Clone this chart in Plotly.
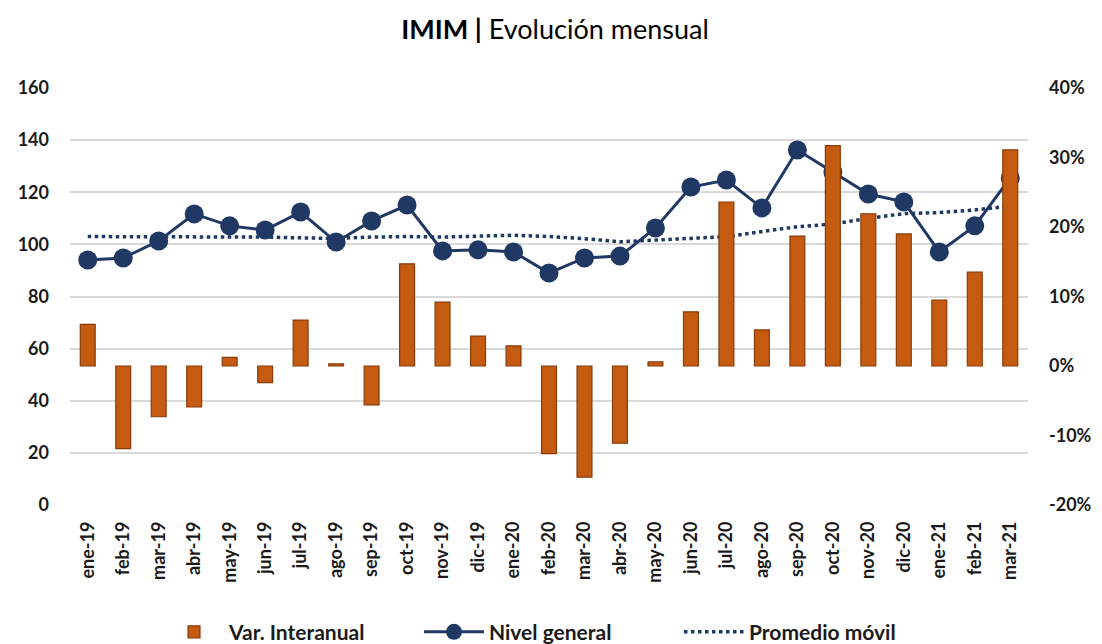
import plotly.graph_objects as go

meses = ["ene-19","feb-19","mar-19","abr-19","may-19","jun-19","jul-19","ago-19","sep-19","oct-19",
         "nov-19","dic-19","ene-20","feb-20","mar-20","abr-20","may-20","jun-20","jul-20","ago-20",
         "sep-20","oct-20","nov-20","dic-20","ene-21","feb-21","mar-21"]
var_interanual = [6.0, -11.9, -7.3, -5.9, 1.25, -2.4, 6.6, 0.3, -5.6, 14.7,
                  9.2, 4.3, 2.9, -12.6, -16.0, -11.1, 0.6, 7.8, 23.6, 5.2,
                  18.7, 31.7, 21.9, 19.0, 9.5, 13.5, 31.1]
nivel_general = [94.0, 94.8, 101.3, 111.7, 107.1, 105.5, 112.4, 100.9, 109.0, 115.1,
                 97.5, 97.9, 97.1, 89.0, 94.8, 95.5, 106.3, 122.0, 124.7, 114.0,
                 136.2, 127.8, 119.3, 116.3, 97.1, 107.1, 125.5]
promedio_movil = [103.0, 103.0, 103.0, 103.0, 103.0, 102.8, 102.5, 102.3, 102.8, 103.0,
                  102.8, 103.0, 103.5, 103.0, 102.2, 101.0, 101.5, 102.3, 103.0, 105.0,
                  106.8, 107.8, 110.0, 111.8, 112.2, 113.2, 114.7]
left_ticks = [0, 20, 40, 60, 80, 100, 120, 140, 160]
right_ticks = [-20, -10, 0, 10, 20, 30, 40]
right_labels = ["-20%", "-10%", "0%", "10%", "20%", "30%", "40%"]

navy = "#203864"
orange = "#C55A11"
font_fam = "Lato, 'Open Sans', sans-serif"
tick_font = dict(size=18, family=font_fam, weight="bold", color="#1a1a1a")

fig = go.Figure()
fig.add_trace(go.Bar(
    x=meses, y=var_interanual, name="Var. Interanual", yaxis="y2",
    marker=dict(color=orange, line=dict(color="#8A3B0B", width=1.2)),
    width=0.42,
))
fig.add_trace(go.Scatter(
    x=meses, y=nivel_general, name="Nivel general", mode="lines+markers",
    line=dict(color=navy, width=3), marker=dict(color=navy, size=19),
))
fig.add_trace(go.Scatter(
    x=meses, y=promedio_movil, name="Promedio móvil", mode="lines",
    line=dict(color=navy, width=3.5, dash="dot"),
))

# page body adds an 8px offset; figure sized to fit the 1102x644 window
fig.update_layout(
    width=1094, height=636,
    paper_bgcolor="white", plot_bgcolor="white",
    margin=dict(l=62, r=74, t=80, b=139, autoexpand=False),
    title=dict(text="<b>IMIM |</b> Evolución mensual", x=0.5, xanchor="center",
               y=0.966, yanchor="middle",
               font=dict(family=font_fam, size=27, color="black")),
    font=dict(family=font_fam, color="#1a1a1a"),
    xaxis=dict(type="category", range=[-0.5, 26.5], tickangle=-90, automargin=False,
               tickfont=dict(size=18, family=font_fam, weight="bold", color="#1a1a1a"),
               showgrid=False, showline=False, ticks="", ticklen=0, ticklabelstandoff=12),
    yaxis=dict(range=[0, 160], tickvals=left_ticks, showgrid=True, gridcolor="#D9D9D9",
               gridwidth=1.5, zeroline=False, ticks="", automargin=False,
               tickfont=tick_font, ticklabelstandoff=20),
    yaxis2=dict(range=[-20, 40], tickvals=right_ticks, ticktext=right_labels, overlaying="y",
                side="right", showgrid=False, zeroline=False, ticks="", automargin=False,
                tickfont=tick_font, ticklabelstandoff=20),
    legend=dict(orientation="h", x=0.5, xanchor="center", y=-0.305, yanchor="middle",
                font=dict(size=21, family=font_fam, weight="bold", color="#1a1a1a"),
                itemwidth=60, entrywidth=185, traceorder="normal"),
    showlegend=True,
)

fig.write_html("out.html")
